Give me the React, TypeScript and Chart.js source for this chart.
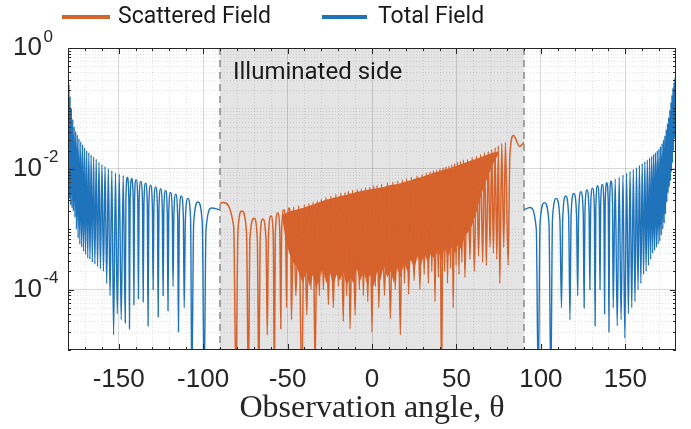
import React, { useEffect, useRef } from 'react';
import { Chart, registerables } from 'chart.js';

Chart.register(...registerables);

type Pt = [number, number];

const totalFieldLeft: Pt[] = [
  [-180, -0.4], [-179.7, -1.9], [-179.4, -0.6], [-179.1, -2.5], [-178.75, -0.8], [-178.4, -2.6],
  [-178.0, -1.0], [-177.6, -2.65], [-177.2, -1.18], [-176.8, -2.7], [-176.35, -1.3], [-175.9, -2.8],
  [-175.45, -1.38], [-175.0, -3.0], [-174.5, -1.44], [-174.0, -3.15], [-173.5, -1.5], [-173.0, -3.25],
  [-172.45, -1.55], [-171.9, -3.3], [-171.35, -1.6], [-170.8, -3.37], [-170.2, -1.65], [-169.6, -3.42],
  [-168.95, -1.7], [-168.3, -3.48], [-167.65, -1.73], [-167.0, -3.5], [-166.3, -1.77], [-165.6, -3.55],
  [-164.85, -1.8], [-164.1, -3.58], [-163.3, -1.84], [-162.5, -3.62], [-161.65, -1.89], [-160.8, -3.66],
  [-159.9, -1.93], [-159.0, -3.7], [-158.05, -1.96], [-157.1, -3.9], [-156.1, -2.0], [-155.1, -4.1],
  [-154.05, -2.03], [-153.0, -4.75], [-151.9, -2.07], [-150.8, -4.4], [-149.65, -2.09], [-148.5, -4.5],
  [-147.3, -2.11], [-146.1, -4.55], [-145.7, -2.49], [-144.85, -2.14], [-144.0, -2.49], [-143.6, -4.65],
  [-143.2, -2.51], [-142.3, -2.16], [-141.4, -2.51], [-141.0, -4.25], [-140.6, -2.53], [-139.65, -2.18],
  [-138.7, -2.53], [-138.3, -4.15], [-137.9, -2.56], [-136.9, -2.21], [-135.9, -2.56], [-135.5, -4.2],
  [-135.05, -2.59], [-134.05, -2.24], [-133.05, -2.59], [-132.6, -4.6], [-132.15, -2.62], [-131.1, -2.27],
  [-130.05, -2.62], [-129.6, -4.0], [-129.15, -2.65], [-128.1, -2.3], [-127.05, -2.65], [-126.6, -4.45],
  [-126.15, -2.68], [-125.15, -2.33], [-124.15, -2.68], [-123.7, -4.1], [-123.25, -2.71], [-122.25, -2.36],
  [-121.25, -2.71], [-120.8, -4.35], [-120.35, -2.74], [-119.3, -2.39], [-118.25, -2.74], [-117.8, -3.95],
  [-117.3, -2.77], [-116.2, -2.42], [-115.1, -2.77], [-114.6, -4.7], [-114.1, -2.8], [-112.9, -2.45],
  [-111.7, -2.8], [-111.2, -4.3], [-110.5, -2.84], [-109.0, -2.49], [-107.4, -2.84], [-106.7, -5.6],
  [-105.6, -2.9], [-103.0, -2.55], [-100.5, -2.9], [-99.4, -5.6], [-98.3, -3.0], [-94.9, -2.65],
  [-90, -2.68],
];

const totalFieldRight: Pt[] = [
  [90, -2.68], [93.5, -2.64], [97.3, -3.0], [98.4, -5.6], [99.5, -2.91], [102.1, -2.56],
  [104.8, -2.91], [105.9, -5.6], [106.85, -2.84], [109.1, -2.49], [111.25, -2.84], [112.2, -4.3],
  [112.95, -2.8], [114.7, -2.45], [116.45, -2.8], [117.2, -4.5], [117.9, -2.76], [119.5, -2.41],
  [121.1, -2.76], [121.8, -4.1], [122.35, -2.73], [123.7, -2.38], [125.05, -2.73], [125.6, -4.3],
  [126.1, -2.7], [127.3, -2.35], [128.5, -2.7], [129.0, -4.0], [129.45, -2.67], [130.55, -2.32],
  [131.65, -2.67], [132.1, -4.6], [132.55, -2.63], [133.55, -2.28], [134.55, -2.63], [135.0, -4.0],
  [135.4, -2.61], [136.35, -2.26], [137.3, -2.61], [137.7, -4.4], [138.1, -2.58], [139.0, -2.23],
  [139.9, -2.58], [140.3, -4.7], [140.7, -2.55], [141.55, -2.2], [142.4, -2.55], [142.8, -4.3],
  [144.0, -2.17], [145.2, -4.6], [146.35, -2.14], [147.5, -4.5], [148.6, -2.1], [149.7, -4.8],
  [150.75, -2.07], [151.8, -4.4], [152.8, -2.04], [153.8, -4.3], [154.75, -2.01], [155.7, -4.2],
  [156.6, -1.98], [157.5, -4.0], [158.35, -1.94], [159.2, -3.9], [160.0, -1.91], [160.8, -3.75],
  [161.55, -1.88], [162.3, -3.7], [163.0, -1.85], [163.7, -3.6], [164.35, -1.82], [165.0, -3.5],
  [165.6, -1.79], [166.2, -3.4], [166.75, -1.76], [167.3, -3.35], [167.85, -1.73], [168.4, -3.3],
  [168.9, -1.7], [169.4, -3.25], [169.9, -1.67], [170.4, -3.2], [170.85, -1.63], [171.3, -3.1],
  [171.75, -1.58], [172.2, -3.0], [172.6, -1.52], [173.0, -2.9], [173.4, -1.45], [173.8, -2.75],
  [174.2, -1.35], [174.6, -2.55], [174.95, -1.25], [175.3, -2.4], [175.65, -1.15], [176.0, -2.3],
  [176.35, -1.03], [176.7, -2.2], [177.0, -0.9], [177.3, -2.05], [177.6, -0.78], [177.9, -1.9],
  [178.2, -0.66], [178.5, -1.7], [178.8, -0.57], [179.1, -1.5], [179.35, -0.5], [179.6, -1.2],
  [180, -0.42],
];

const scatteredField: Pt[] = [
  [-90, -2.57], [-88.2, -2.56], [-81.9, -2.95], [-80.5, -5.6], [-79.4, -3.05], [-77.1, -2.7],
  [-74.3, -3.05], [-73.2, -5.6], [-72.3, -3.17], [-69.8, -2.82], [-67.9, -3.17], [-67.0, -5.6],
  [-66.25, -3.18], [-64.7, -2.83], [-62.75, -3.18], [-62.0, -4.75], [-61.35, -3.13], [-59.8, -2.78],
  [-58.45, -3.13], [-57.8, -5.6], [-57.25, -3.08], [-55.8, -2.73], [-54.55, -3.08], [-54.0, -4.65],
  [-53.5, -3.03], [-52.2, -2.68], [-51.1, -3.03], [-50.6, -4.3], [-50.15, -3.0], [-49.1, -2.65],
  [-48.15, -3.0], [-47.7, -4.5], [-46.4, -2.63], [-45.1, -4.1], [-43.35, -2.61], [-41.6, -5.6],
  [-40.1, -2.59], [-38.6, -4.42], [-37.35, -2.57], [-36.1, -4.0], [-34.9, -2.55], [-33.7, -5.3],
  [-32.45, -2.53], [-31.2, -4.1], [-30.0, -2.5], [-28.8, -4.0], [-27.3, -2.47], [-25.8, -4.25],
  [-24.35, -2.45], [-22.9, -4.3], [-21.4, -2.42], [-19.9, -3.95], [-18.45, -2.4], [-17.0, -4.53],
  [-16.0, -2.39], [-15.0, -4.1], [-14.0, -2.37], [-13.0, -4.65], [-11.5, -2.35], [-10.0, -4.42],
  [-8.75, -2.34], [-7.5, -4.0], [-6.3, -2.33], [-5.1, -4.1], [-3.8, -2.31], [-2.5, -4.2],
  [-1.25, -2.3], [0.0, -4.7], [1.0, -2.28], [2.0, -3.95], [3.0, -2.27], [4.0, -4.3],
  [5.7, -2.25], [7.4, -4.1], [9.15, -2.23], [10.9, -4.48], [12.35, -2.22], [13.8, -4.0],
  [15.3, -2.2], [16.8, -4.75], [18.0, -2.18], [19.2, -3.9], [20.45, -2.16], [21.7, -4.08],
  [23.3, -2.14], [24.9, -3.85], [26.65, -2.12], [28.4, -4.0], [29.65, -2.09], [30.9, -3.75],
  [32.15, -2.07], [33.4, -3.9], [34.4, -2.05], [35.4, -3.7], [36.35, -2.03], [37.3, -4.2],
  [38.3, -2.02], [39.3, -3.8], [40.25, -2.0], [41.2, -5.6], [42.1, -1.98], [43.0, -3.7],
  [43.85, -1.96], [44.7, -3.9], [45.6, -1.95], [46.5, -3.65], [47.3, -1.93], [48.1, -4.3],
  [48.95, -1.91], [49.8, -3.6], [50.65, -1.89], [51.5, -3.75], [52.35, -1.87], [53.2, -3.55],
  [54.1, -1.85], [55.0, -3.8], [56.6, -1.84], [58.0, -3.5], [59.3, -1.81], [60.6, -3.7],
  [61.9, -1.79], [63.1, -3.45], [64.3, -1.76], [65.5, -3.55], [66.6, -1.73], [67.7, -3.6],
  [68.8, -1.71], [69.9, -3.3], [70.9, -1.68], [71.9, -3.4], [72.9, -1.65], [73.9, -3.5],
  [74.8, -1.62], [75.7, -3.9], [76.8, -1.58], [78.0, -3.3], [79.0, -1.56], [80.6, -3.6],
  [81.6, -1.8], [83.8, -1.45], [87.4, -1.63], [90, -1.56],
];

// Dense (unresolved) part of the scattered field: solid band between these envelopes.
const denseBandTheta: number[] = [
  -53, -51, -49, -47, -45, -43, -41, -39, -37, -35, -33, -31, -29, -27, -25, -23, -21, -19, -17, -15,
  -13, -11, -9, -7, -5, -3, -1, 1, 3, 5, 7, 9, 11, 13, 15, 17, 19, 21, 23, 25, 27, 29, 31, 33, 35, 37,
  39, 41, 43, 45, 47, 49, 51, 53, 55, 57, 59, 61, 63, 65, 67, 69, 71, 73, 75,
];
const denseBandUpper: number[] = [
  -2.76, -2.73, -2.71, -2.69, -2.68, -2.66, -2.65, -2.63, -2.61, -2.59, -2.57, -2.55, -2.53, -2.51,
  -2.5, -2.48, -2.47, -2.45, -2.44, -2.43, -2.41, -2.4, -2.38, -2.37, -2.36, -2.35, -2.34, -2.33,
  -2.32, -2.31, -2.3, -2.28, -2.27, -2.26, -2.25, -2.24, -2.22, -2.2, -2.19, -2.17, -2.15, -2.14,
  -2.12, -2.1, -2.08, -2.06, -2.05, -2.03, -2.01, -2.0, -1.98, -1.96, -1.94, -1.92, -1.9, -1.88,
  -1.86, -1.84, -1.82, -1.8, -1.78, -1.76, -1.74, -1.72, -1.71,
];
const denseBandLower: number[] = [
  -2.85, -3.2, -3.4, -3.55, -3.6, -3.75, -3.9, -3.7, -3.95, -3.75, -4.0, -3.8, -3.65, -3.9,
  -3.7, -3.95, -3.75, -3.85, -3.7, -3.95, -3.8, -3.9, -3.65, -3.85, -3.7, -3.9, -3.75, -3.95,
  -3.7, -3.85, -3.6, -3.8, -3.7, -3.9, -3.65, -3.8, -3.55, -3.7, -3.5, -3.65, -3.45, -3.6,
  -3.4, -3.55, -3.4, -3.5, -3.35, -3.5, -3.3, -3.45, -3.3, -3.4, -3.25, -3.35, -3.1, -3.05,
  -2.95, -2.8, -2.6, -2.4, -2.25, -2.1, -1.97, -1.86, -1.74,
];

const illuminatedRange = [-90, 90];
const xTickValues = [-150, -100, -50, 0, 50, 100, 150];
const xMinorValues = [
  -170, -160, -140, -130, -120, -110, -90, -80, -70, -60, -40, -30, -20, -10,
  10, 20, 30, 40, 60, 70, 80, 90, 110, 120, 130, 140, 160, 170,
];
const yTickValues = [1, 1e-2, 1e-4];
const yTickBase = '10';
const yTickExponents = ['0', '-2', '-4'];
const yDecades = [1e-5, 1e-4, 1e-3, 1e-2, 1e-1];
const yMantissas = [1, 2, 3, 4, 5, 6, 7, 8, 9];
const seriesNames = ['Scattered Field', 'Total Field'];
const annotationText = 'Illuminated side';
const xTitle = 'Observation angle, θ';

const ORANGE = '#D6622C';
const BLUE = '#1E73BA';
const AXIS = '#262626';
const TICK_FAMILY = '"Liberation Sans", Arial, sans-serif';

const isMajorY = (v: number) => yTickValues.some((t) => Math.abs(t - v) / t < 1e-9);

const decor = {
  id: 'decor',
  beforeDraw(chart: any) {
    const { ctx, chartArea: a } = chart;
    const xs = chart.scales.x;
    const ys = chart.scales.y;
    ctx.save();
    const x0 = xs.getPixelForValue(illuminatedRange[0]);
    const x1 = xs.getPixelForValue(illuminatedRange[1]);
    ctx.fillStyle = 'rgba(0,0,0,0.105)';
    ctx.fillRect(x0, a.top, x1 - x0, a.bottom - a.top);
    ctx.strokeStyle = 'rgba(0,0,0,0.11)';
    ctx.lineWidth = 1;
    ctx.setLineDash([1, 2]);
    ctx.beginPath();
    for (const v of xMinorValues) {
      const p = Math.round(xs.getPixelForValue(v)) + 0.5;
      ctx.moveTo(p, a.top);
      ctx.lineTo(p, a.bottom);
    }
    for (const d of yDecades) {
      for (const m of yMantissas) {
        const v = d * m;
        if (isMajorY(v)) continue;
        const p = Math.round(ys.getPixelForValue(v)) + 0.5;
        if (p < a.top || p > a.bottom) continue;
        ctx.moveTo(a.left, p);
        ctx.lineTo(a.right, p);
      }
    }
    ctx.stroke();
    ctx.restore();
  },
  afterDatasetsDraw(chart: any) {
    const { ctx, chartArea: a } = chart;
    const xs = chart.scales.x;
    const ys = chart.scales.y;
    ctx.save();
    // dashed boundaries of the illuminated side
    ctx.strokeStyle = '#8a8a8a';
    ctx.lineWidth = 1.5;
    ctx.setLineDash([7, 5]);
    ctx.beginPath();
    for (const v of illuminatedRange) {
      const p = xs.getPixelForValue(v);
      ctx.moveTo(p, a.top);
      ctx.lineTo(p, a.bottom);
    }
    ctx.stroke();
    ctx.setLineDash([]);

    // box
    ctx.strokeStyle = AXIS;
    ctx.lineWidth = 1;
    ctx.strokeRect(a.left + 0.5, a.top + 0.5, a.right - a.left - 1, a.bottom - a.top - 1);

    // inward ticks on all sides
    ctx.beginPath();
    const vtick = (v: number, len: number) => {
      const p = Math.round(xs.getPixelForValue(v)) + 0.5;
      ctx.moveTo(p, a.bottom);
      ctx.lineTo(p, a.bottom - len);
      ctx.moveTo(p, a.top);
      ctx.lineTo(p, a.top + len);
    };
    const htick = (v: number, len: number) => {
      const p = Math.round(ys.getPixelForValue(v)) + 0.5;
      ctx.moveTo(a.left, p);
      ctx.lineTo(a.left + len, p);
      ctx.moveTo(a.right, p);
      ctx.lineTo(a.right - len, p);
    };
    xTickValues.forEach((v) => vtick(v, 6));
    xMinorValues.forEach((v) => vtick(v, 3));
    yTickValues.forEach((v) => htick(v, 6));
    for (const d of yDecades) {
      for (const m of yMantissas) {
        const v = d * m;
        if (isMajorY(v)) continue;
        htick(v, 3);
      }
    }
    ctx.stroke();

    // y tick labels 10^k
    ctx.fillStyle = AXIS;
    ctx.textAlign = 'left';
    ctx.textBaseline = 'middle';
    yTickValues.forEach((v, i) => {
      const py = ys.getPixelForValue(v);
      const bx = a.left - 55;
      ctx.font = `26px ${TICK_FAMILY}`;
      ctx.fillText(yTickBase, bx, py);
      const w = ctx.measureText(yTickBase).width;
      ctx.font = `17px ${TICK_FAMILY}`;
      ctx.fillText(yTickExponents[i], bx + w + 1.5, py - 11);
    });

    // annotation
    ctx.fillStyle = '#1a1a1a';
    ctx.font = '24px Roboto, "Open Sans", sans-serif';
    ctx.textAlign = 'left';
    ctx.textBaseline = 'middle';
    ctx.fillText(annotationText, xs.getPixelForValue(illuminatedRange[0]) + 13, 73);

    // legend
    const legendSlots = [
      { line: [62, 110], text: 118 },
      { line: [322, 367], text: 378 },
    ];
    ctx.font = '23px Roboto, "Open Sans", sans-serif';
    seriesNames.forEach((name, i) => {
      const ds = chart.data.datasets.find((d: any) => d.label === name);
      const slot = legendSlots[i];
      ctx.strokeStyle = ds ? ds.borderColor : AXIS;
      ctx.lineWidth = 4;
      ctx.beginPath();
      ctx.moveTo(slot.line[0], 17);
      ctx.lineTo(slot.line[1], 17);
      ctx.stroke();
      ctx.fillStyle = '#1a1a1a';
      ctx.fillText(name, slot.text, 17);
    });
    ctx.restore();
  },
};

export default function App() {
  const ref = useRef<HTMLCanvasElement>(null);
  useEffect(() => {
    document.body.style.margin = '0';
    const canvas = ref.current;
    if (!canvas) return;
    const toXY = (pts: Pt[]) => pts.map(([t, e]) => ({ x: t, y: Math.pow(10, e) }));
    const totalData: any[] = [...toXY(totalFieldLeft), { x: 0, y: null }, ...toXY(totalFieldRight)];
    const bandUpper = denseBandTheta.map((t, i) => ({ x: t, y: Math.pow(10, denseBandUpper[i]) }));
    const bandLower = denseBandTheta.map((t, i) => ({ x: t, y: Math.pow(10, denseBandLower[i]) }));

    const chart = new Chart(canvas, {
      type: 'line',
      data: {
        datasets: [
          {
            label: seriesNames[0],
            data: toXY(scatteredField),
            borderColor: ORANGE,
            borderWidth: 1.5,
            pointRadius: 0,
            cubicInterpolationMode: 'monotone',
            capBezierPoints: false,
            fill: false,
          } as any,
          {
            label: 'dense-upper',
            data: bandUpper,
            borderColor: 'rgba(0,0,0,0)',
            borderWidth: 0,
            backgroundColor: ORANGE,
            pointRadius: 0,
            tension: 0,
            fill: '+1',
          } as any,
          {
            label: 'dense-lower',
            data: bandLower,
            borderColor: 'rgba(0,0,0,0)',
            borderWidth: 0,
            pointRadius: 0,
            tension: 0,
            fill: false,
          } as any,
          {
            label: seriesNames[1],
            data: totalData,
            borderColor: BLUE,
            borderWidth: 1.4,
            pointRadius: 0,
            cubicInterpolationMode: 'monotone',
            capBezierPoints: false,
            spanGaps: false,
            fill: false,
          } as any,
        ],
      },
      options: {
        responsive: false,
        animation: false,
        devicePixelRatio: 1,
        events: [],
        layout: { padding: { top: 48, right: 15, left: 0, bottom: 0 } },
        plugins: { legend: { display: false }, tooltip: { enabled: false } },
        scales: {
          x: {
            type: 'linear',
            min: -180,
            max: 180,
            afterBuildTicks: (s: any) => {
              s.ticks = xTickValues.map((v) => ({ value: v }));
            },
            afterFit: (s: any) => {
              s.height = 79;
            },
            grid: { color: 'rgba(0,0,0,0.15)', lineWidth: 1, drawTicks: false },
            border: { display: false },
            ticks: {
              font: { family: TICK_FAMILY, size: 26 },
              color: AXIS,
              padding: 14,
              maxRotation: 0,
              autoSkip: false,
            },
            title: {
              display: true,
              text: xTitle,
              color: AXIS,
              font: { family: '"Liberation Serif", "Times New Roman", serif', size: 32 },
              padding: { top: 0, bottom: 1 },
            },
          },
          y: {
            type: 'logarithmic',
            min: 1e-5,
            max: 1,
            afterBuildTicks: (s: any) => {
              s.ticks = yTickValues.map((v) => ({ value: v }));
            },
            afterFit: (s: any) => {
              s.width = 68;
            },
            grid: { color: 'rgba(0,0,0,0.15)', lineWidth: 1, drawTicks: false },
            border: { display: false },
            ticks: { display: false },
          },
        },
      } as any,
      plugins: [decor],
    });
    return () => chart.destroy();
  }, []);
  return (
    <div style={{ width: 691, height: 429 }}>
      <canvas ref={ref} width={691} height={429} style={{ display: 'block' }} />
    </div>
  );
}
